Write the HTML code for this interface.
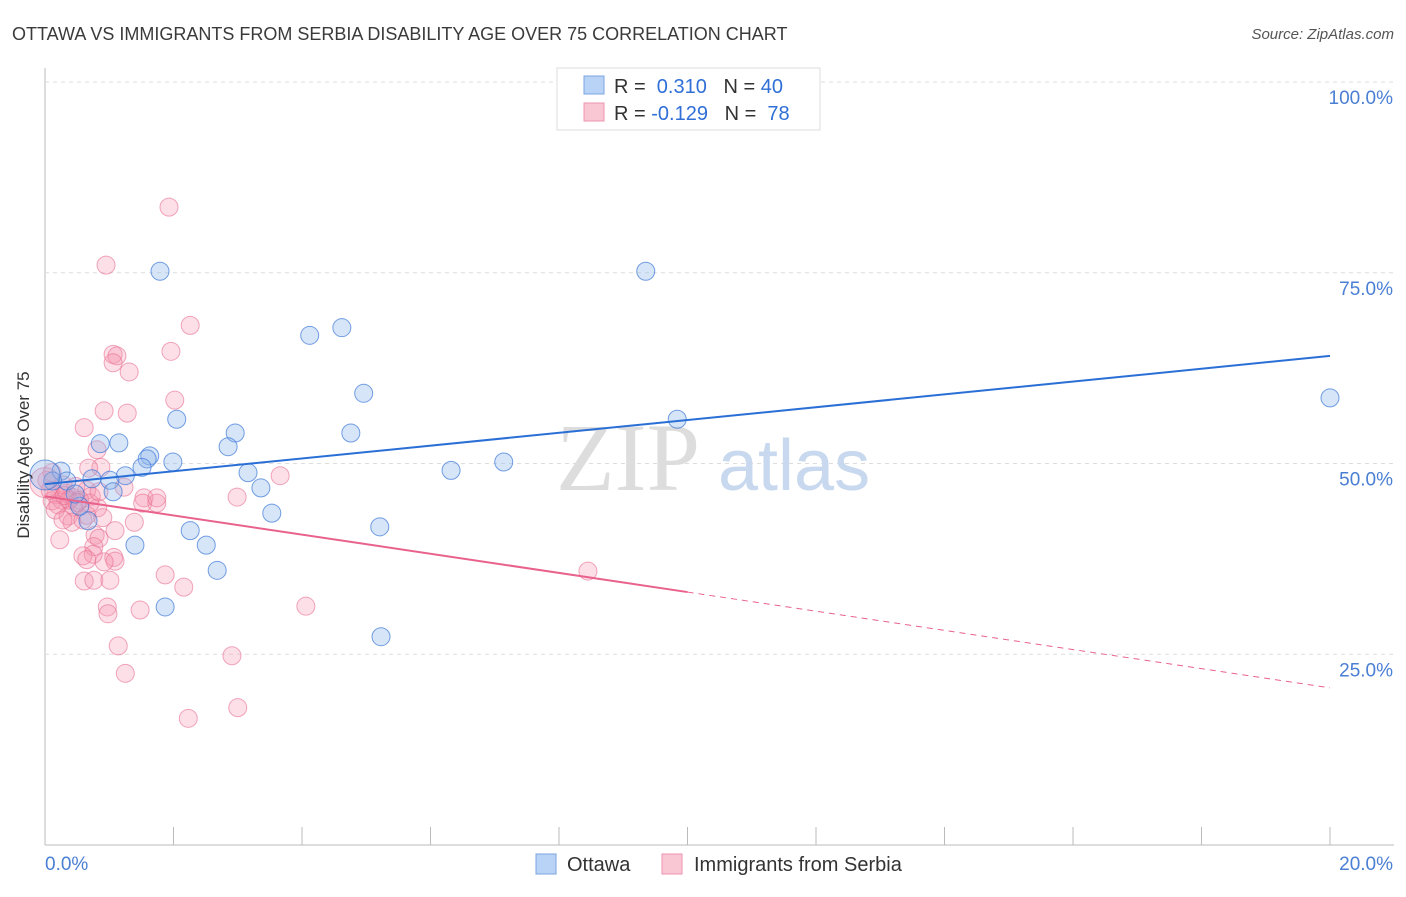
<!DOCTYPE html>
<html><head><meta charset="utf-8"><style>
body{margin:0;background:#fff;font-family:"Liberation Sans",sans-serif;}
</style></head><body>
<svg id="chart" width="1406" height="892" xmlns="http://www.w3.org/2000/svg">
<text x="12" y="40" font-size="18" fill="#3a3a3a">OTTAWA VS IMMIGRANTS FROM SERBIA DISABILITY AGE OVER 75 CORRELATION CHART</text>
<text x="1394" y="39" font-size="15" fill="#555" font-style="italic" text-anchor="end">Source: ZipAtlas.com</text>
<g id="grid"></g>
<text x="700" y="490" font-size="96" font-family="Liberation Serif,serif" fill="#ddd" text-anchor="end">ZIP</text>
<text x="718" y="490" font-size="72" fill="#c8d8ee">atlas</text>
<g id="points"></g>
<g id="lines"></g>
<text transform="translate(29,455) rotate(-90)" font-size="17" fill="#333" text-anchor="middle">Disability Age Over 75</text>
<g>
<rect x="557" y="68" width="263" height="62" fill="#fff" stroke="#ddd"/>
<rect x="584" y="76" width="20" height="18" fill="#b8d3f5" stroke="#7aa6e0"/>
<rect x="584" y="103" width="20" height="18" fill="#f9c6d3" stroke="#ee94ac"/>
<text x="614" y="93" font-size="20" fill="#333">R = <tspan fill="#2f6fd6">&#160;0.310</tspan>&#160;&#160;&#160;N = <tspan fill="#2f6fd6">40</tspan></text>
<text x="614" y="120" font-size="20" fill="#333">R = <tspan fill="#2f6fd6">-0.129</tspan>&#160;&#160;&#160;N = <tspan fill="#2f6fd6">&#160;78</tspan></text>
</g>
<g>
<rect x="536" y="854" width="20" height="20" fill="#b8d3f5" stroke="#7aa6e0"/>
<text x="567" y="871" font-size="20" fill="#333">Ottawa</text>
<rect x="662" y="854" width="20" height="20" fill="#f9c6d3" stroke="#ee94ac"/>
<text x="694" y="871" font-size="20" fill="#333">Immigrants from Serbia</text>
</g>
</svg>
<script>
const xTicks=[0,2,4,6,8,10,12,14,16,18,20];
const yTicks=[25,50,75,100];
const yTickLabels=["25.0%","50.0%","75.0%","100.0%"];
const xTickLabels=["0.0%","20.0%"];
const ottawaX=[1.79,9.35,4.12,4.62,4.96,4.76,2.05,2.96,2.85,0.86,1.15,1.63,1.59,1.99,1.51,1.25,3.16,3.36,6.32,7.14,9.84,20.0,3.53,5.21,2.26,2.51,1.40,2.68,1.87,5.23,0.25,0.34,0.12,0.73,1.01,1.06,0.67,0.54,0.0,0.47];
const ottawaY=[75.2,75.2,66.8,67.8,59.2,54.0,55.8,54.0,52.2,52.6,52.7,51.0,50.6,50.2,49.5,48.4,48.8,46.8,49.1,50.2,55.8,58.6,43.5,41.7,41.2,39.3,39.3,36.0,31.2,27.3,49.0,47.7,47.7,48.0,47.8,46.3,42.5,44.4,48.5,46.0];
const serbiaX=[1.93,0.95,2.26,1.96,1.06,1.12,1.06,1.31,2.02,0.92,1.28,0.61,0.81,0.87,3.66,2.99,1.54,1.74,1.52,1.23,0.65,0.72,0.42,0.26,0.17,0.33,0.11,0.45,0.82,0.65,0.36,0.42,0.59,0.90,1.39,0.23,0.78,0.84,0.76,0.75,0.59,0.65,1.07,1.09,0.92,1.87,2.16,0.61,0.76,1.01,0.97,0.98,1.48,4.06,8.45,1.14,1.25,2.91,2.23,3.00,0.03,0.08,0.2,0.28,0.48,0.54,0.37,0.16,0.28,0.70,0.84,1.09,0.11,0.68,1.74,0.0,0.3,0.5];
const serbiaY=[83.6,76.0,68.1,64.7,64.3,64.1,63.2,62.0,58.3,56.9,56.6,54.7,51.8,49.5,48.4,45.6,45.5,44.8,44.8,46.9,46.5,45.7,45.6,45.2,45.9,46.1,45.1,44.3,44.2,43.2,43.1,42.3,42.6,42.9,42.3,40.0,40.6,40.2,39.1,38.1,37.9,37.4,37.7,37.2,37.1,35.4,33.8,34.6,34.7,34.7,31.2,30.3,30.8,31.3,35.9,26.1,22.5,24.8,16.6,18.0,47.8,46.5,44.6,47.2,47.0,45.2,45.2,43.9,42.6,44.8,46.3,41.2,48.8,49.4,45.5,47.5,45.8,44.9];
const ottawaTrend=[47.3,64.1];
const serbiaTrend=[45.7,20.6];
const serbiaSolidEndX=10;
const NS="http://www.w3.org/2000/svg";
const X0=45,X1=1330,YT=82,YB=845;
function xs(v){return X0+(X1-X0)*v/20;}
function ys(v){return YB-(YB-YT)*v/100;}
function mk(tag,attrs,parent){const e=document.createElementNS(NS,tag);for(const k in attrs)e.setAttribute(k,attrs[k]);parent.appendChild(e);return e;}
const grid=document.getElementById('grid');
const ax=mk('line',{x1:X0,y1:68,x2:X0,y2:YB,stroke:'#bbb'},grid);


const bx=mk('line',{x1:X0,y1:YB,x2:1394,y2:YB,stroke:'#bbb'},grid);


yTicks.forEach((t,i)=>{
 const g=mk('line',{x1:X0,y1:ys(t),x2:1394,y2:ys(t),stroke:'#ddd','stroke-dasharray':'4,4'},grid);
 
 
 const tx=mk('text',{x:1393,y:ys(t)+22,'font-size':19,fill:'#4a7fd4','text-anchor':'end'},grid);
 tx.textContent=yTickLabels[i];
 
 
});
xTicks.forEach(t=>{
 const l=mk('line',{x1:xs(t),y1:827,x2:xs(t),y2:YB,stroke:'#bbb'},grid);
 
 
});
const xl0=mk('text',{x:45,y:870,'font-size':19,fill:'#4a7fd4'},grid);
xl0.textContent=xTickLabels[0];


const xl1=mk('text',{x:1393,y:870,'font-size':19,fill:'#4a7fd4','text-anchor':'end'},grid);
xl1.textContent=xTickLabels[1];


const pts=document.getElementById('points');
serbiaX.forEach((x,i)=>{
 const c=mk('circle',{cx:xs(x),cy:ys(serbiaY[i]),r:x===0?15:9,fill:'rgba(244,150,175,0.3)',stroke:'rgba(232,110,145,0.6)','stroke-width':1},pts);
 
 
});
ottawaX.forEach((x,i)=>{
 const c=mk('circle',{cx:xs(x),cy:ys(ottawaY[i]),r:x===0?15:9,fill:'rgba(140,180,235,0.35)',stroke:'rgba(60,120,215,0.7)','stroke-width':1},pts);
 
 
});
const lines=document.getElementById('lines');
const bl=mk('line',{x1:xs(0),y1:ys(ottawaTrend[0]),x2:xs(20),y2:ys(ottawaTrend[1]),stroke:'#2a6fd6','stroke-width':2},lines);


const midY=serbiaTrend[0]+(serbiaTrend[1]-serbiaTrend[0])*serbiaSolidEndX/20;
const pl=mk('line',{x1:xs(0),y1:ys(serbiaTrend[0]),x2:xs(serbiaSolidEndX),y2:ys(midY),stroke:'#e8628c','stroke-width':2},lines);


const pd=mk('line',{x1:xs(serbiaSolidEndX),y1:ys(midY),x2:xs(20),y2:ys(serbiaTrend[1]),stroke:'#e8628c','stroke-width':1,'stroke-dasharray':'6,5'},lines);


</script>
</body></html>
